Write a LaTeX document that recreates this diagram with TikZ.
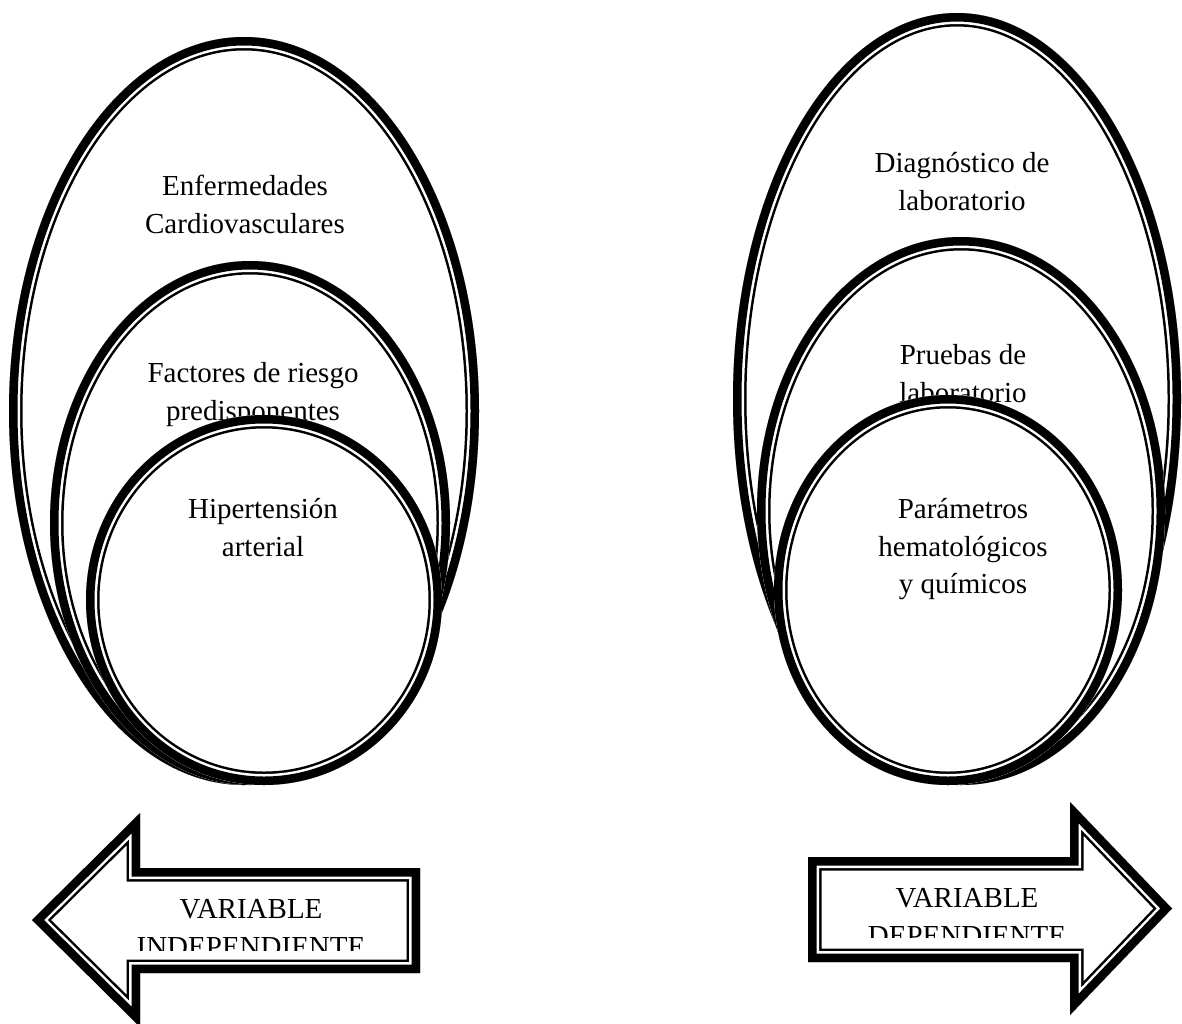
\documentclass[tikz,border=0pt]{standalone}
\usepackage{fontspec}
\setmainfont{Liberation Serif}
\tikzset{
  lbl/.style={font=\fontsize{29}{38}\selectfont, anchor=base, inner sep=0pt},
}
\newcommand\ttshape[1]{%
  \begin{scope}
    \fill[white] #1;
    \clip #1;
    \draw[line width=27pt, miter limit=20] #1;
    \draw[white, line width=22pt, miter limit=20] #1;
    \draw[line width=17pt, miter limit=20] #1;
  \end{scope}}
\begin{document}
\begin{tikzpicture}[x=1pt, y=1pt]
\useasboundingbox (0,0) rectangle (1182,-1023);

% ---------- left group ----------
\ttshape{(244,-411) ellipse [x radius=235pt, y radius=374pt]}
\node[lbl] (enf1) at (245,-195) {Enfermedades};
\node[lbl] (enf2) at (245,-233) {Cardiovasculares};

\ttshape{(250,-523) ellipse [x radius=200pt, y radius=262pt]}
\node[lbl] (fac1) at (253,-382) {Factores de riesgo};
\node[lbl] (fac2) at (253,-420) {predisponentes};

\ttshape{(264,-600) ellipse [x radius=178pt, y radius=185pt]}
\node[lbl] (hip1) at (263,-518) {Hipertensión};
\node[lbl] (hip2) at (263,-556) {arterial};

% ---------- right group ----------
\ttshape{(957,-399) ellipse [x radius=224pt, y radius=386pt]}
\node[lbl] (dia1) at (962,-172) {Diagnóstico de};
\node[lbl] (dia2) at (962,-210) {laboratorio};

\ttshape{(961,-511) ellipse [x radius=204pt, y radius=274pt]}
\node[lbl] (pru1) at (963,-364) {Pruebas de};
\node[lbl] (pru2) at (963,-402) {laboratorio};

\ttshape{(948,-590) ellipse [x radius=174pt, y radius=195pt]}
\node[lbl] (par1) at (963,-518) {Parámetros};
\node[lbl] (par2) at (963,-556) {hematológicos};
\node[lbl] (par3) at (963,-593) {y químicos};

% ---------- arrows ----------
\ttshape{(420,-868) -- (140,-868) -- (140,-813) -- (32,-920) -- (140,-1027) -- (140,-973) -- (420,-973) -- cycle}
\begin{scope}
  \clip (125,-860) rectangle (410,-950.7);
  \node[lbl] (vi1) at (251,-918) {VARIABLE};
  \node[lbl] (vi2) at (251,-956) {INDEPENDIENTE};
\end{scope}

\ttshape{(808,-857) -- (1070,-857) -- (1070,-802) -- (1172,-908.5) -- (1070,-1015) -- (1070,-962) -- (808,-962) -- cycle}
\begin{scope}
  \clip (818,-850) rectangle (1070,-937);
  \node[lbl] (vd1) at (967,-907) {VARIABLE};
  \node[lbl] (vd2) at (967,-945) {DEPENDIENTE};
\end{scope}
\end{tikzpicture}
\end{document}
